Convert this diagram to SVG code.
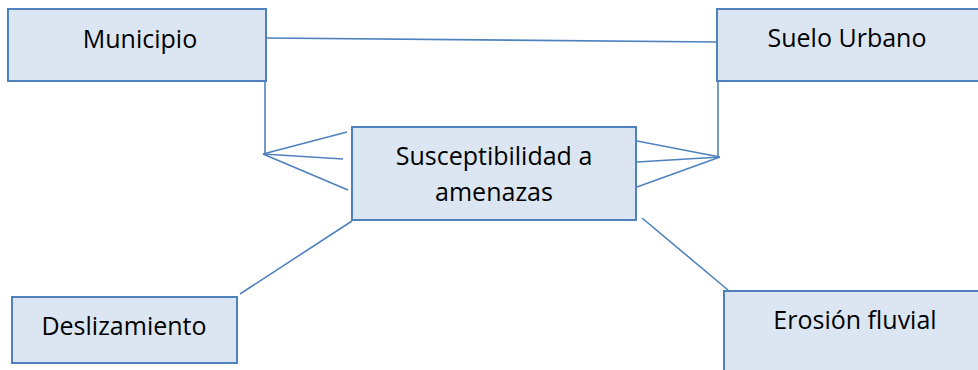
<svg xmlns="http://www.w3.org/2000/svg" width="978" height="370" viewBox="0 0 978 370">
<style>
.box{fill:#DCE6F2;stroke:#4F81BD;stroke-width:2}
.lbl{font-family:"Open Sans","Liberation Sans",sans-serif;font-size:25px;fill:#000;text-anchor:middle}
.con{stroke:#4F81BD;stroke-width:1.6;fill:none}
</style>
<rect width="978" height="370" fill="#fff"/>
<g id="connectors">
<line class="con" x1="266" y1="38" x2="717" y2="42"/>
<polyline class="con" points="265,81 265,154"/>
<line class="con" x1="263" y1="154" x2="347" y2="132"/>
<line class="con" x1="263" y1="154" x2="343" y2="159"/>
<line class="con" x1="263" y1="154" x2="348" y2="190"/>
<polyline class="con" points="718,81 718,157"/>
<line class="con" x1="720" y1="157" x2="637" y2="141"/>
<line class="con" x1="720" y1="157" x2="637" y2="162"/>
<line class="con" x1="720" y1="157" x2="637" y2="187"/>
<line class="con" x1="352" y1="221" x2="240" y2="294"/>
<line class="con" x1="642" y1="218" x2="728" y2="290"/>
</g>
<g id="municipio">
<rect class="box" x="8" y="9" width="258" height="72"/>
<text class="lbl" x="140" y="48">Municipio</text>
</g>
<g id="suelo-urbano">
<rect class="box" x="717" y="9" width="262" height="72"/>
<text class="lbl" x="847" y="47">Suelo Urbano</text>
</g>
<g id="susceptibilidad">
<rect class="box" x="352" y="127" width="284" height="93"/>
<text class="lbl" x="494" y="165">Susceptibilidad a</text>
<text class="lbl" x="494" y="201">amenazas</text>
</g>
<g id="deslizamiento">
<rect class="box" x="12" y="297" width="225" height="66"/>
<text class="lbl" x="124" y="335">Deslizamiento</text>
</g>
<g id="erosion">
<rect class="box" x="724" y="291" width="264" height="90"/>
<text class="lbl" x="855" y="329">Erosión fluvial</text>
</g>
</svg>
